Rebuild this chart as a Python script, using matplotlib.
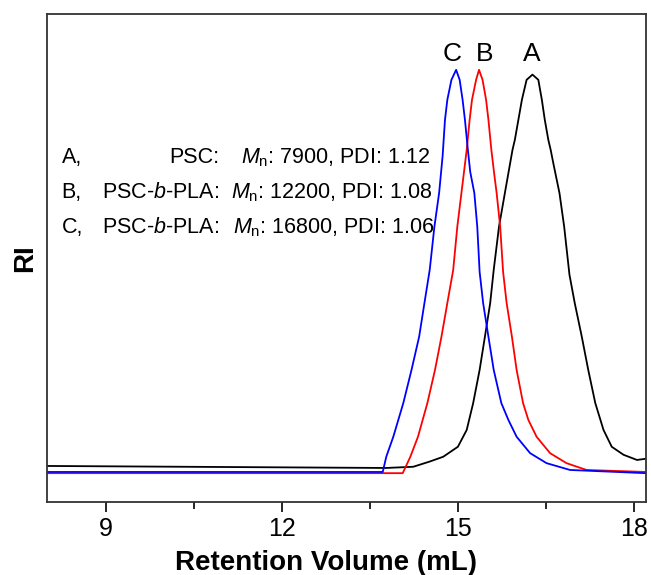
import matplotlib
matplotlib.use("Agg")
import matplotlib.pyplot as plt

plt.rcParams['font.family'] = ['Liberation Sans', 'DejaVu Sans']
plt.rcParams['mathtext.fontset'] = 'custom'
plt.rcParams['mathtext.rm'] = 'Liberation Sans'
plt.rcParams['mathtext.it'] = 'Liberation Sans:italic'

# GPC traces (retention volume in mL, RI normalised)
vol_c = [8.0, 13.72, 13.78, 13.90, 14.07, 14.21, 14.34, 14.43, 14.52, 14.60, 14.68,
         14.74, 14.78, 14.82, 14.89, 14.97, 15.03, 15.08, 15.12, 15.17, 15.21,
         15.28, 15.33, 15.37, 15.43, 15.52, 15.61, 15.74, 15.86, 16.00, 16.23,
         16.51, 16.91, 18.2]
ri_c = [0.0, 0.0, 0.038, 0.088, 0.172, 0.255, 0.338, 0.422, 0.505, 0.613, 0.697,
        0.79, 0.88, 0.93, 0.98, 1.005, 0.98, 0.93, 0.88, 0.805, 0.75,
        0.697, 0.613, 0.50, 0.422, 0.338, 0.255, 0.172, 0.13, 0.088, 0.047,
        0.022, 0.005, -0.003]

vol_b = [8.0, 14.06, 14.19, 14.32, 14.48, 14.61, 14.72, 14.82, 14.92, 14.99, 15.06,
         15.15, 15.20, 15.24, 15.31, 15.36, 15.42, 15.48, 15.52, 15.57, 15.62,
         15.66, 15.72, 15.77, 15.83, 15.92, 16.00, 16.11, 16.20, 16.34, 16.57,
         16.85, 17.19, 18.2]
ri_b = [-0.003, -0.003, 0.038, 0.088, 0.172, 0.255, 0.338, 0.422, 0.505, 0.613, 0.697,
        0.805, 0.88, 0.93, 0.98, 1.005, 0.98, 0.93, 0.88, 0.805, 0.743,
        0.697, 0.613, 0.50, 0.422, 0.338, 0.255, 0.172, 0.13, 0.088, 0.047,
        0.022, 0.005, 0.0]

vol_a = [8.0, 13.78, 14.24, 14.52, 14.75, 15.00, 15.15, 15.26, 15.37, 15.46, 15.55,
         15.61, 15.70, 15.80, 15.93, 15.97, 16.03, 16.09, 16.17, 16.27, 16.37,
         16.43, 16.48, 16.54, 16.58, 16.63, 16.73, 16.81, 16.90, 16.99, 17.11,
         17.22, 17.34, 17.48, 17.62, 17.82, 18.05, 18.2]
ri_a = [0.015, 0.01, 0.013, 0.026, 0.038, 0.063, 0.105, 0.172, 0.255, 0.338, 0.422,
        0.505, 0.613, 0.697, 0.805, 0.83, 0.88, 0.93, 0.98, 0.993, 0.98,
        0.93, 0.88, 0.83, 0.805, 0.768, 0.697, 0.613, 0.493, 0.422, 0.338,
        0.255, 0.172, 0.105, 0.063, 0.043, 0.03, 0.033]

peak_labels = ['C', 'B', 'A']
peak_pos = [14.90, 15.46, 16.26]

samples = ['A,', 'B,', 'C,']
names = ['PSC:', 'PSC-$b$-PLA:', 'PSC-$b$-PLA:']
mn = ['7900', '12200', '16800']
pdi = ['1.12', '1.08', '1.06']

fig = plt.figure(figsize=(6.51, 5.75), dpi=100)
ax = fig.add_axes([0.072, 0.127, 0.920, 0.849])

ax.plot(vol_a, ri_a, color='black', lw=1.3)
ax.plot(vol_b, ri_b, color='#ff0000', lw=1.3)
ax.plot(vol_c, ri_c, color='#0000ff', lw=1.3)

for lab, x in zip(peak_labels, peak_pos):
    ax.text(x, 1.045, lab, fontsize=19, ha='center', va='center')

ys = [0.785, 0.6975, 0.61]
mx = [11.30, 11.13, 11.165]
for s, n, m, p, y, x0 in zip(samples, names, mn, pdi, ys, mx):
    ax.text(8.25, y, s, fontsize=15.5, ha='left', va='center')
    ax.text(10.94, y, n, fontsize=15.5, ha='right', va='center')
    ax.text(x0, y, r'$M_\mathrm{n}$: ' + m + ', PDI: ' + p,
            fontsize=15.5, ha='left', va='center')

ax.set_xlim(8, 18.2)
ax.set_ylim(-0.075, 1.145)
ax.set_xticks([9, 12, 15, 18])
ax.set_xticks([10.5, 13.5, 16.5], minor=True)
ax.set_yticks([])
ax.tick_params(axis='x', which='major', direction='out', length=7, width=1.2,
               labelsize=18, pad=4)
ax.tick_params(axis='x', which='minor', direction='out', length=5, width=1.2)
for sp in ax.spines.values():
    sp.set_linewidth(1.3)
    sp.set_color('#333333')

ax.set_xlabel('Retention Volume (mL)', fontsize=20, fontweight='bold', labelpad=6)
ax.xaxis.label.set_x(0.466)
ax.set_ylabel('RI', fontsize=20, fontweight='bold', labelpad=6)

fig.savefig('out.png', dpi=100)
